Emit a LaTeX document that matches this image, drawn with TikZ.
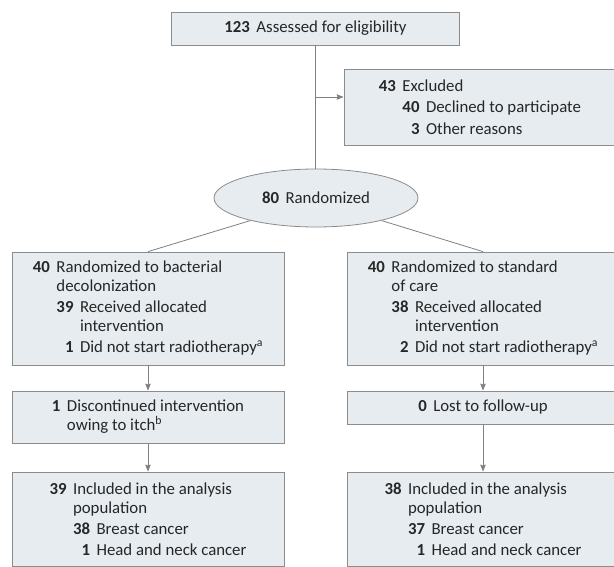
\documentclass[tikz,border=0pt]{standalone}
\usepackage{fontspec}
\setmainfont{Carlito}
\usepackage{calc}
\usetikzlibrary{shapes.geometric,arrows.meta}
\definecolor{boxfill}{HTML}{E6ECF0}
\definecolor{boxline}{HTML}{8C8C8C}
\definecolor{lnk}{HTML}{808080}
\newlength\gapw
\setlength\gapw{6.5pt}
\newcommand\nn[1]{\textbf{#1}\hspace{\gapw}}
\newcommand\tw{\phantom{\textbf{00}}\hspace{\gapw}}
\newcommand\sn[1]{\makebox[\widthof{\textbf{00}}][r]{\textbf{#1}}\hspace{\gapw}}
\tikzset{
  box/.style={draw=boxline, fill=boxfill, line width=0.8pt, rectangle, inner sep=0pt,
    align=left, font=\fontsize{16.8}{19}\selectfont, text=black!85},
  oval/.style={draw=boxline, fill=boxfill, line width=0.8pt, ellipse, inner sep=0pt,
    font=\fontsize{16.8}{19}\selectfont, text=black!85},
  conn/.style={draw=lnk, line width=0.8pt},
  arr/.style={conn, -{Stealth[length=7pt,width=5.5pt,inset=1pt]}}
}
\begin{document}
\begin{tikzpicture}[x=1pt,y=-1pt]
\useasboundingbox (0,0) rectangle (614,567);
\clip (0,0) rectangle (614,567);
\fill[white] (0,0) rectangle (614,567);

\node[box, minimum width=288pt, minimum height=33pt] (top) at (315.5,28.5)
  {\nn{123}Assessed for eligibility};

\node[box, minimum width=272pt, minimum height=76pt] (excl) at (480,107)
  {\nn{43}Excluded\\[2.5pt]
   \tw\sn{40}Declined to participate\\[2.5pt]
   \tw\sn{3}Other reasons};

\node[oval, minimum width=204pt, minimum height=58pt] (rand) at (316,198)
  {\nn{80}Randomized};

\node[box, minimum width=272pt, minimum height=113pt] (l1) at (148,308.5)
  {\nn{40}Randomized to bacterial\\
   \tw decolonization\\[2pt]
   \tw\sn{39}Received allocated\\
   \tw\tw intervention\\[2pt]
   \tw\sn{1}Did not start radiotherapy\textsuperscript{a}};

\node[box, minimum width=272pt, minimum height=113pt] (r1) at (483,308.5)
  {\nn{40}Randomized to standard\\
   \tw of care\\[2pt]
   \tw\sn{38}Received allocated\\
   \tw\tw intervention\\[2pt]
   \tw\sn{2}Did not start radiotherapy\textsuperscript{a}};

\node[box, minimum width=272pt, minimum height=52pt] (l2) at (148,417)
  {\nn{1}Discontinued intervention\\
   \phantom{\textbf{1}}\hspace{\gapw}owing to itch\textsuperscript{b}};

\node[box, minimum width=272pt, minimum height=33pt] (r2) at (483,407.5)
  {\nn{0}Lost to follow-up};

\node[box, minimum width=272pt, minimum height=94pt] (l3) at (148,519)
  {\nn{39}Included in the analysis\\
   \tw population\\[2pt]
   \tw\sn{38}Breast cancer\\[2pt]
   \tw\sn{1}Head and neck cancer};

\node[box, minimum width=272pt, minimum height=94pt] (r3) at (483,519)
  {\nn{38}Included in the analysis\\
   \tw population\\[2pt]
   \tw\sn{37}Breast cancer\\[2pt]
   \tw\sn{1}Head and neck cancer};

\coordinate (j) at (top.south |- 0,97);
\draw[conn] (top.south) -- (top.south |- rand.north);
\draw[arr] (j) -- (j -| excl.west);
\draw[conn] (rand.199) -- (l1.north);
\draw[conn] (rand.-19) -- (r1.north);
\draw[arr] (l1.south) -- (l2.north);
\draw[arr] (l2.south) -- (l3.north);
\draw[arr] (r1.south) -- (r2.north);
\draw[arr] (r2.south) -- (r3.north);
\end{tikzpicture}
\end{document}
